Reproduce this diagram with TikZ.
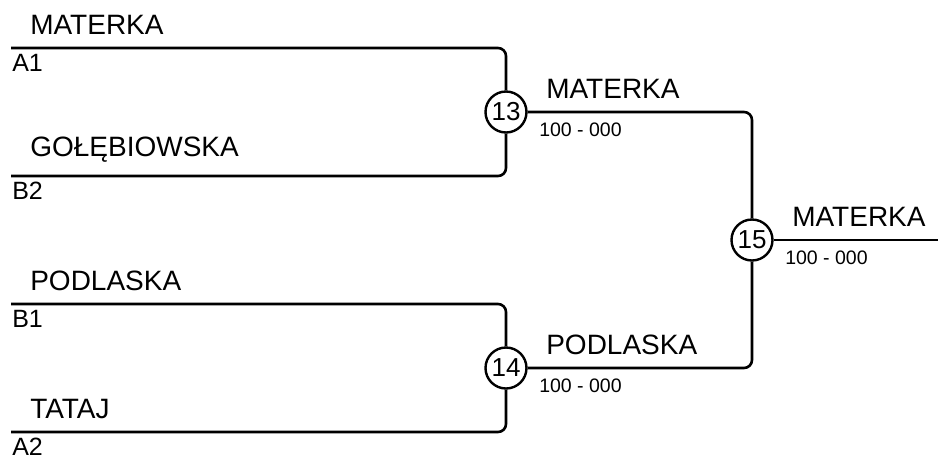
\documentclass[tikz,border=0pt]{standalone}
\usepackage{fontspec}
\setmainfont{Liberation Sans}
\usetikzlibrary{positioning}

\begin{document}
\begin{tikzpicture}[x=1pt, y=-1pt, line width=2.6pt]
  \useasboundingbox (0,0) rectangle (938,459);
  \tikzstyle{match}=[circle, draw, fill=white, line width=2.4pt, minimum size=41pt, inner sep=0pt, font=\fontsize{26}{26}\selectfont]
  \tikzstyle{pname}=[anchor=south west, inner sep=0pt, font=\fontsize{28}{28}\selectfont]
  \tikzstyle{seed}=[anchor=north west, inner sep=0pt, font=\fontsize{25}{25}\selectfont]
  \tikzstyle{score}=[anchor=north west, inner sep=0pt, font=\fontsize{19.5}{20}\selectfont]
  \tikzstyle{bracket}=[rounded corners=8pt]

  % entry lines
  \coordinate (a1) at (11,48);
  \coordinate (b2) at (11,176);
  \coordinate (b1) at (11,304);
  \coordinate (a2) at (11,432);
  \coordinate (fin) at (938,240);

  % matches
  \node[match] (m13) at (506,112) {13};
  \node[match] (m14) at (506,368) {14};
  \node[match] (m15) at (752,240) {15};

  \draw[bracket] (a1) -| (m13);
  \draw[bracket] (b2) -| (m13);
  \draw[bracket] (b1) -| (m14);
  \draw[bracket] (a2) -| (m14);
  \draw[bracket] (m13) -| (m15);
  \draw[bracket] (m14) -| (m15);
  \draw (m15) -- (fin);

  % players and seeds
  \node[pname] (p1) at (29,36) {MATERKA};
  \node[seed] (s1) at (11,53) {A1};
  \node[pname] (p2) at (29,164) {GOŁĘBIOWSKA};
  \node[seed] (s2) at (11,181) {B2};
  \node[pname] (p3) at (29,292) {PODLASKA};
  \node[seed] (s3) at (11,309) {B1};
  \node[pname] (p4) at (29,420) {TATAJ};
  \node[seed] (s4) at (11,437) {A2};

  % winners
  \node[pname] (w13) at (545,100) {MATERKA};
  \node[score] (r13) at (538,122) {100 - 000};
  \node[pname] (w14) at (545,356) {PODLASKA};
  \node[score] (r14) at (538,378) {100 - 000};
  \node[pname] (w15) at (791,228) {MATERKA};
  \node[score] (r15) at (784,250) {100 - 000};
\end{tikzpicture}
\end{document}
